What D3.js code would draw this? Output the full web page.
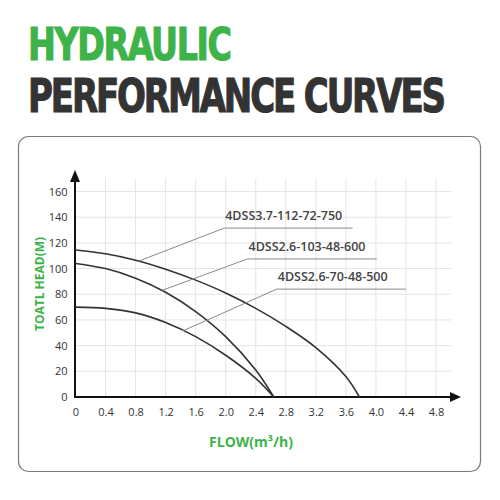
<!DOCTYPE html>
<html>
<head>
<meta charset="utf-8">
<script src="https://cdn.jsdelivr.net/npm/d3@7"></script>
<style>
  body { margin: 0; background: #fff; }
  svg { display: block; }
</style>
</head>
<body>
<div id="main"></div>
<script>
// tick labels
const xTicks = [0, 0.4, 0.8, 1.2, 1.6, 2.0, 2.4, 2.8, 3.2, 3.6, 4.0, 4.4, 4.8];
const yTicks = [0, 20, 40, 60, 80, 100, 120, 140, 160];

// pump models
const models = ["4DSS3.7-112-72-750", "4DSS2.6-103-48-600", "4DSS2.6-70-48-500"];

// flow / head points
const flow750 = [0, 0.4, 0.8, 1.2, 1.6, 2.0, 2.4, 2.8, 3.2, 3.6, 3.78];
const head750 = [114.5, 111.5, 106.5, 99.5, 91, 81, 69, 55, 38.5, 16, 0];
const flow600 = [0, 0.4, 0.8, 1.2, 1.6, 2.0, 2.4, 2.64];
const head600 = [104, 100, 92.5, 81.5, 66.5, 47, 21, 0];
const flow500 = [0, 0.4, 0.8, 1.2, 1.6, 2.0, 2.4, 2.64];
const head500 = [70, 69, 65.5, 58, 47, 32.5, 14.5, 0];

// leader lines: point on curve -> start of underline -> end of underline
const leaderFlow = [[0.85, 1.98, 3.69], [1.15, 2.29, 4.01], [1.43, 2.68, 4.4]];
const leaderHead = [[106, 131.5, 131.5], [83, 107.5, 107.5], [51.5, 84, 84]];

const ctx = { width: 500, height: 500 };

function createViz() {
    const svg = d3.select("#main").append("svg")
        .attr("width", ctx.width)
        .attr("height", ctx.height);

    // titre : police condensee a la main + espacement pour la largeur voulue
    function title(txt, yy, size, color, width) {
        const sx = 0.74;
        const t = svg.append("text")
            .attr("transform", `translate(28,${yy}) scale(${sx},1)`)
            .style("font-family", "'DejaVu Sans', sans-serif")
            .style("font-weight", "bold")
            .style("font-size", size + "px")
            .style("fill", color)
            .style("stroke", color).style("stroke-width", 1.2)
            .text(txt);
        const w = t.node().getComputedTextLength();
        t.style("letter-spacing", ((width / sx - w) / (txt.length - 1)) + "px");
    }
    title("HYDRAULIC", 60, 45, "#3db34a", 204);
    title("PERFORMANCE CURVES", 112, 46, "#333333", 418);

    // cadre
    svg.append("rect")
        .attr("x", 18.5).attr("y", 136.5)
        .attr("width", 462).attr("height", 335)
        .attr("rx", 10)
        .style("fill", "none")
        .style("stroke", "#7a7a7a")
        .style("stroke-width", 1.2);

    const x = d3.scaleLinear().domain([0, 4.8]).range([75.5, 436]);
    const y = d3.scaleLinear().domain([0, 160]).range([397, 191.5]);

    // grille
    const grid = svg.append("g");
    grid.selectAll("line.v")
        .data(xTicks.slice(1))
        .enter().append("line")
        .attr("x1", d => x(d)).attr("x2", d => x(d))
        .attr("y1", y(0)).attr("y2", y(170))
        .style("stroke", "#e4e4e4").style("stroke-width", 1);
    grid.selectAll("line.h")
        .data(yTicks.slice(1))
        .enter().append("line")
        .attr("x1", x(0)).attr("x2", x(5))
        .attr("y1", d => y(d)).attr("y2", d => y(d))
        .style("stroke", "#e4e4e4").style("stroke-width", 1);

    // axes
    const xAxis = d3.axisBottom(x).tickValues(xTicks).tickSize(0).tickPadding(11)
        .tickFormat(d => d === 0 ? "0" : d3.format(".1f")(d));
    const yAxis = d3.axisLeft(y).tickValues(yTicks).tickSize(0).tickPadding(8)
        .tickFormat(d3.format("d"));

    const gx = svg.append("g").attr("transform", `translate(0,${y(0)})`).call(xAxis);
    const gy = svg.append("g").attr("transform", `translate(${x(0)},0)`).call(yAxis);
    [gx, gy].forEach(g => {
        g.select(".domain").remove();
        g.selectAll("text")
            .style("font-family", "'Open Sans', 'Noto Sans', sans-serif")
            .style("font-size", "11px")
            .style("fill", "#333");
    });

    // lignes d'axe + fleches
    const ax = x(0) - 0.5;
    svg.append("line")
        .attr("x1", ax - 1).attr("x2", 452)
        .attr("y1", y(0)).attr("y2", y(0))
        .style("stroke", "#111").style("stroke-width", 2);
    svg.append("path")
        .attr("d", `M461,${y(0)} L450,${y(0) - 5} L450,${y(0) + 5} Z`)
        .style("fill", "#111");
    svg.append("line")
        .attr("x1", ax).attr("x2", ax)
        .attr("y1", y(0) + 1).attr("y2", 180)
        .style("stroke", "#111").style("stroke-width", 2);
    svg.append("path")
        .attr("d", `M${ax},170 L${ax - 5},182 L${ax + 5},182 Z`)
        .style("fill", "#111");

    // courbes
    const line = d3.line()
        .x(d => x(d[0]))
        .y(d => y(d[1]))
        .curve(d3.curveCatmullRom.alpha(0.5));
    const series = [
        d3.zip(flow750, head750),
        d3.zip(flow600, head600),
        d3.zip(flow500, head500)
    ];
    svg.selectAll("path.curve")
        .data(series)
        .enter().append("path")
        .attr("class", "curve")
        .attr("d", line)
        .style("fill", "none")
        .style("stroke", "#333")
        .style("stroke-width", 1.6);

    // etiquettes
    models.forEach((m, i) => {
        const pts = d3.zip(leaderFlow[i], leaderHead[i]);
        svg.append("path")
            .attr("d", d3.line().x(d => x(d[0])).y(d => y(d[1]))(pts))
            .style("fill", "none")
            .style("stroke", "#8a8a8a")
            .style("stroke-width", 1);
        svg.append("text")
            .attr("x", x(leaderFlow[i][1]) + 1)
            .attr("y", y(leaderHead[i][1]) - 8)
            .style("font-family", "'Open Sans', 'Noto Sans', sans-serif")
            .style("font-weight", 600)
            .style("font-size", "12.5px")
            .style("fill", "#444")
            .text(m);
    });

    // titres d'axes
    svg.append("text")
        .attr("transform", "translate(40,284) rotate(-90)")
        .attr("text-anchor", "middle")
        .attr("dy", "0.35em")
        .style("font-family", "'Open Sans', 'Noto Sans', sans-serif")
        .style("font-weight", "bold")
        .style("font-size", "12px")
        .style("fill", "#3db34a")
        .text("TOATL HEAD(M)");
    svg.append("text")
        .attr("x", 251).attr("y", 447)
        .attr("text-anchor", "middle")
        .style("font-family", "'Open Sans', 'Noto Sans', sans-serif")
        .style("font-weight", "bold")
        .style("font-size", "14px")
        .style("fill", "#3db34a")
        .text("FLOW(m³/h)");
}

createViz();
</script>
</body>
</html>
